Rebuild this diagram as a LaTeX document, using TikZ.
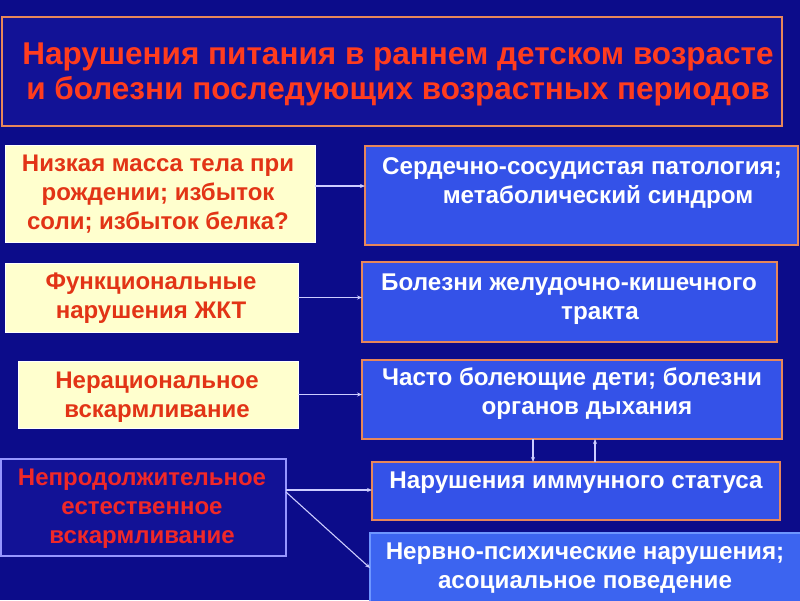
\documentclass[tikz,border=0pt]{standalone}
\usepackage{fontspec}
\setmainfont{Liberation Sans}
\usetikzlibrary{arrows.meta}
\definecolor{bg}{RGB}{12,12,138}
\definecolor{titlebg}{RGB}{18,18,150}
\definecolor{orng}{RGB}{232,135,90}
\definecolor{titletext}{RGB}{255,60,30}
\definecolor{cream}{RGB}{255,255,206}
\definecolor{redtext}{RGB}{226,52,22}
\definecolor{redtext2}{RGB}{240,40,40}
\definecolor{midblue}{RGB}{52,82,232}
\definecolor{midblue2}{RGB}{60,100,240}
\definecolor{lightb}{RGB}{150,150,255}
\definecolor{lightb2}{RGB}{110,150,255}
\definecolor{conncol}{RGB}{205,205,255}
\tikzset{
  box/.style={anchor=north west, inner sep=0pt, outer sep=0pt},
  titlebox/.style={box, fill=titlebg, draw=orng, line width=2pt},
  creambox/.style={box, fill=cream, draw=white, line width=0.8pt},
  darkbox/.style={box, fill=titlebg, draw=lightb, line width=1.2pt},
  bluebox/.style={box, fill=midblue, draw=orng, line width=2.6pt},
  bluebox2/.style={box, fill=midblue2, draw=lightb2, line width=1.5pt},
  titletxt/.style={anchor=north, inner sep=0pt, align=center, text=titletext, font=\bfseries\fontsize{31.5}{35}\selectfont},
  ltxt/.style={anchor=north, inner sep=0pt, align=center, text=redtext, font=\bfseries\fontsize{24}{29}\selectfont},
  ltxtb/.style={ltxt, text=redtext2},
  rtxt/.style={anchor=north, inner sep=0pt, align=center, text=white, font=\bfseries\fontsize{24.2}{29}\selectfont},
  conn/.style={draw=conncol, line width=1.1pt, -{Stealth[length=5pt,width=4pt]}}
}
\begin{document}
\begin{tikzpicture}[x=1pt,y=-1pt]
\fill[bg] (0,0) rectangle (800,600);
\useasboundingbox (0,0) rectangle (800,600);

% title
\node[titlebox, minimum width=780pt, minimum height=109pt] (title) at (2,17) {};
\node[titletxt] (titlet) at (398,43) {Нарушения питания в раннем детском возрасте\\и болезни последующих возрастных периодов};

% left boxes
\node[creambox, minimum width=310pt, minimum height=97pt] (l1) at (5,145) {};
\node[ltxt] (l1t) at (158,155) {Низкая масса тела при\\рождении; избыток\\соли; избыток белка?};
\node[creambox, minimum width=293pt, minimum height=69pt] (l2) at (5,263) {};
\node[ltxt] (l2t) at (151,273) {Функциональные\\нарушения ЖКТ};
\node[creambox, minimum width=280pt, minimum height=67pt] (l3) at (18,361) {};
\node[ltxt] (l3t) at (157,372) {Нерациональное\\вскармливание};
\node[darkbox, minimum width=285pt, minimum height=97pt] (l4) at (1,459) {};
\node[ltxtb] (l4t) at (142,469) {Непродолжительное\\естественное\\вскармливание};

% right boxes
\node[bluebox, minimum width=433pt, minimum height=99pt] (r1) at (365,146) {};
\node[rtxt] (r1t) at (582,157) {Сердечно-сосудистая патология;\\\hspace*{32pt}метаболический синдром};
\node[bluebox, minimum width=415pt, minimum height=80pt] (r2) at (362,262) {};
\node[rtxt] (r2t) at (569,274) {Болезни желудочно-кишечного\\\hspace*{62pt}тракта};
\node[bluebox, minimum width=420pt, minimum height=79pt] (r3) at (362,360) {};
\node[rtxt] (r3t) at (572,368) {Часто болеющие дети; болезни\\\hspace*{30pt}органов дыхания};
\node[bluebox, minimum width=408pt, minimum height=58pt] (r4) at (372,462) {};
\node[rtxt] (r4t) at (576,472) {Нарушения иммунного статуса};
\node[bluebox2, minimum width=432pt, minimum height=70pt] (r5) at (370,533) {};
\node[rtxt] (r5t) at (585,543) {Нервно-психические нарушения;\\асоциальное поведение};

% connectors
\draw[conn] (l1.east |- 0,186) -- (r1.west |- 0,186);
\draw[conn] (l2.east) -- (l2.east -| r2.west);
\draw[conn] (l3.east) -- (l3.east -| r3.west);
\draw[conn] (l4.east |- 0,490) -- (r4.west |- 0,490);
\draw[conn] (l4.east |- 0,492) -- (r5.west);
\draw[conn] (r3.south -| 533,0) -- (r4.north -| 533,0);
\draw[conn] (r4.north -| 595,0) -- (r3.south -| 595,0);
\end{tikzpicture}
\end{document}
